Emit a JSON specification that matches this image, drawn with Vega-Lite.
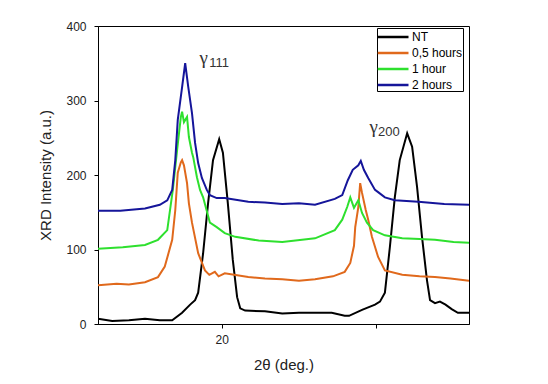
{
  "$schema": "https://vega.github.io/schema/vega-lite/v6.json",
  "autosize": {"type": "none"},
  "padding": {"left": 98, "top": 26, "right": 79, "bottom": 60},
  "width": 371,
  "height": 298,
  "background": "white",
  "config": {
    "view": {"stroke": "black", "strokeWidth": 1},
    "font": "Liberation Sans"
  },
  "datasets": {
    "xrd": [
      {"s": "NT", "x": 18.00, "y": 7}, {"s": "NT", "x": 18.23, "y": 4}, {"s": "NT", "x": 18.5, "y": 5}, {"s": "NT", "x": 18.76, "y": 7}, {"s": "NT", "x": 19.0, "y": 5}, {"s": "NT", "x": 19.20, "y": 5},
      {"s": "NT", "x": 19.36, "y": 15}, {"s": "NT", "x": 19.49, "y": 26}, {"s": "NT", "x": 19.57, "y": 32}, {"s": "NT", "x": 19.62, "y": 42}, {"s": "NT", "x": 19.70, "y": 95},
      {"s": "NT", "x": 19.78, "y": 162}, {"s": "NT", "x": 19.86, "y": 220}, {"s": "NT", "x": 19.96, "y": 248}, {"s": "NT", "x": 20.02, "y": 230}, {"s": "NT", "x": 20.10, "y": 162},
      {"s": "NT", "x": 20.18, "y": 86}, {"s": "NT", "x": 20.25, "y": 36}, {"s": "NT", "x": 20.30, "y": 21}, {"s": "NT", "x": 20.38, "y": 18}, {"s": "NT", "x": 20.70, "y": 17},
      {"s": "NT", "x": 20.98, "y": 14}, {"s": "NT", "x": 21.25, "y": 15}, {"s": "NT", "x": 21.51, "y": 15}, {"s": "NT", "x": 21.78, "y": 15}, {"s": "NT", "x": 21.99, "y": 11}, {"s": "NT", "x": 22.06, "y": 11},
      {"s": "NT", "x": 22.27, "y": 19}, {"s": "NT", "x": 22.48, "y": 26}, {"s": "NT", "x": 22.56, "y": 30}, {"s": "NT", "x": 22.64, "y": 42}, {"s": "NT", "x": 22.72, "y": 103}, {"s": "NT", "x": 22.80, "y": 170},
      {"s": "NT", "x": 22.88, "y": 220}, {"s": "NT", "x": 23.00, "y": 256}, {"s": "NT", "x": 23.08, "y": 238}, {"s": "NT", "x": 23.16, "y": 184}, {"s": "NT", "x": 23.24, "y": 117},
      {"s": "NT", "x": 23.32, "y": 59}, {"s": "NT", "x": 23.37, "y": 32}, {"s": "NT", "x": 23.45, "y": 28}, {"s": "NT", "x": 23.53, "y": 30}, {"s": "NT", "x": 23.62, "y": 26}, {"s": "NT", "x": 23.72, "y": 20}, {"s": "NT", "x": 23.82, "y": 15}, {"s": "NT", "x": 24.0, "y": 15},

      {"s": "0,5 hours", "x": 18.00, "y": 52}, {"s": "0,5 hours", "x": 18.3, "y": 54}, {"s": "0,5 hours", "x": 18.5, "y": 53}, {"s": "0,5 hours", "x": 18.76, "y": 56}, {"s": "0,5 hours", "x": 18.97, "y": 63},
      {"s": "0,5 hours", "x": 19.08, "y": 77}, {"s": "0,5 hours", "x": 19.20, "y": 113}, {"s": "0,5 hours", "x": 19.25, "y": 153}, {"s": "0,5 hours", "x": 19.29, "y": 203}, {"s": "0,5 hours", "x": 19.34, "y": 217},
      {"s": "0,5 hours", "x": 19.36, "y": 220}, {"s": "0,5 hours", "x": 19.39, "y": 213}, {"s": "0,5 hours", "x": 19.44, "y": 189}, {"s": "0,5 hours", "x": 19.47, "y": 162}, {"s": "0,5 hours", "x": 19.52, "y": 136},
      {"s": "0,5 hours", "x": 19.62, "y": 95}, {"s": "0,5 hours", "x": 19.73, "y": 72}, {"s": "0,5 hours", "x": 19.80, "y": 66}, {"s": "0,5 hours", "x": 19.89, "y": 70}, {"s": "0,5 hours", "x": 19.95, "y": 64},
      {"s": "0,5 hours", "x": 20.05, "y": 68}, {"s": "0,5 hours", "x": 20.43, "y": 63}, {"s": "0,5 hours", "x": 20.7, "y": 61}, {"s": "0,5 hours", "x": 20.98, "y": 60}, {"s": "0,5 hours", "x": 21.25, "y": 58},
      {"s": "0,5 hours", "x": 21.51, "y": 60}, {"s": "0,5 hours", "x": 21.8, "y": 64}, {"s": "0,5 hours", "x": 21.99, "y": 70}, {"s": "0,5 hours", "x": 22.08, "y": 82}, {"s": "0,5 hours", "x": 22.14, "y": 105},
      {"s": "0,5 hours", "x": 22.16, "y": 130}, {"s": "0,5 hours", "x": 22.21, "y": 157}, {"s": "0,5 hours", "x": 22.24, "y": 189}, {"s": "0,5 hours", "x": 22.27, "y": 176}, {"s": "0,5 hours", "x": 22.33, "y": 153},
      {"s": "0,5 hours", "x": 22.37, "y": 140}, {"s": "0,5 hours", "x": 22.43, "y": 117}, {"s": "0,5 hours", "x": 22.53, "y": 90}, {"s": "0,5 hours", "x": 22.64, "y": 72}, {"s": "0,5 hours", "x": 22.92, "y": 66}, {"s": "0,5 hours", "x": 23.2, "y": 64}, {"s": "0,5 hours", "x": 23.45, "y": 63},
      {"s": "0,5 hours", "x": 23.7, "y": 61}, {"s": "0,5 hours", "x": 24.0, "y": 58},

      {"s": "1 hour", "x": 18.00, "y": 101}, {"s": "1 hour", "x": 18.4, "y": 103}, {"s": "1 hour", "x": 18.76, "y": 106}, {"s": "1 hour", "x": 18.97, "y": 113}, {"s": "1 hour", "x": 19.12, "y": 126},
      {"s": "1 hour", "x": 19.21, "y": 180}, {"s": "1 hour", "x": 19.28, "y": 234}, {"s": "1 hour", "x": 19.34, "y": 278}, {"s": "1 hour", "x": 19.36, "y": 285}, {"s": "1 hour", "x": 19.39, "y": 271},
      {"s": "1 hour", "x": 19.44, "y": 278}, {"s": "1 hour", "x": 19.47, "y": 251}, {"s": "1 hour", "x": 19.52, "y": 230}, {"s": "1 hour", "x": 19.54, "y": 224}, {"s": "1 hour", "x": 19.60, "y": 197},
      {"s": "1 hour", "x": 19.65, "y": 180}, {"s": "1 hour", "x": 19.70, "y": 170}, {"s": "1 hour", "x": 19.81, "y": 136}, {"s": "1 hour", "x": 19.92, "y": 130}, {"s": "1 hour", "x": 20.05, "y": 122}, {"s": "1 hour", "x": 20.22, "y": 117},
      {"s": "1 hour", "x": 20.6, "y": 112}, {"s": "1 hour", "x": 20.98, "y": 110}, {"s": "1 hour", "x": 21.3, "y": 113}, {"s": "1 hour", "x": 21.51, "y": 115}, {"s": "1 hour", "x": 21.83, "y": 126},
      {"s": "1 hour", "x": 21.95, "y": 140}, {"s": "1 hour", "x": 22.03, "y": 157}, {"s": "1 hour", "x": 22.08, "y": 170}, {"s": "1 hour", "x": 22.14, "y": 156},
      {"s": "1 hour", "x": 22.21, "y": 166}, {"s": "1 hour", "x": 22.27, "y": 149}, {"s": "1 hour", "x": 22.35, "y": 136}, {"s": "1 hour", "x": 22.45, "y": 126}, {"s": "1 hour", "x": 22.64, "y": 119},
      {"s": "1 hour", "x": 22.92, "y": 115}, {"s": "1 hour", "x": 23.2, "y": 114}, {"s": "1 hour", "x": 23.45, "y": 113}, {"s": "1 hour", "x": 23.75, "y": 110}, {"s": "1 hour", "x": 24.0, "y": 109},

      {"s": "2 hours", "x": 18.00, "y": 152}, {"s": "2 hours", "x": 18.36, "y": 152}, {"s": "2 hours", "x": 18.76, "y": 155}, {"s": "2 hours", "x": 19.00, "y": 160},
      {"s": "2 hours", "x": 19.12, "y": 166}, {"s": "2 hours", "x": 19.20, "y": 180}, {"s": "2 hours", "x": 19.25, "y": 220}, {"s": "2 hours", "x": 19.29, "y": 274},
      {"s": "2 hours", "x": 19.36, "y": 318}, {"s": "2 hours", "x": 19.41, "y": 350}, {"s": "2 hours", "x": 19.46, "y": 318}, {"s": "2 hours", "x": 19.52, "y": 283},
      {"s": "2 hours", "x": 19.57, "y": 243}, {"s": "2 hours", "x": 19.62, "y": 216}, {"s": "2 hours", "x": 19.68, "y": 196}, {"s": "2 hours", "x": 19.76, "y": 180},
      {"s": "2 hours", "x": 19.81, "y": 173}, {"s": "2 hours", "x": 19.92, "y": 169}, {"s": "2 hours", "x": 20.05, "y": 169}, {"s": "2 hours", "x": 20.43, "y": 164}, {"s": "2 hours", "x": 20.7, "y": 163}, {"s": "2 hours", "x": 20.98, "y": 161}, {"s": "2 hours", "x": 21.25, "y": 162},
      {"s": "2 hours", "x": 21.51, "y": 160}, {"s": "2 hours", "x": 21.83, "y": 168}, {"s": "2 hours", "x": 21.95, "y": 173}, {"s": "2 hours", "x": 22.04, "y": 193}, {"s": "2 hours", "x": 22.12, "y": 207},
      {"s": "2 hours", "x": 22.21, "y": 213}, {"s": "2 hours", "x": 22.25, "y": 219}, {"s": "2 hours", "x": 22.30, "y": 207}, {"s": "2 hours", "x": 22.37, "y": 196}, {"s": "2 hours", "x": 22.48, "y": 180},
      {"s": "2 hours", "x": 22.53, "y": 177}, {"s": "2 hours", "x": 22.64, "y": 170}, {"s": "2 hours", "x": 22.80, "y": 166}, {"s": "2 hours", "x": 23.18, "y": 164}, {"s": "2 hours", "x": 23.6, "y": 161}, {"s": "2 hours", "x": 24.0, "y": 160}
    ],
    "gamma": [
      {"x": 19.71, "y": 357, "t": "γ"},
      {"x": 22.46, "y": 264, "t": "γ"}
    ],
    "sub": [
      {"x": 19.80, "y": 351, "t": "111"},
      {"x": 22.53, "y": 258, "t": "200"}
    ]
  },
  "layer": [
    {
      "data": {"name": "xrd"},
      "mark": {"type": "line", "strokeWidth": 2, "clip": true},
      "encoding": {
        "x": {
          "field": "x", "type": "quantitative",
          "scale": {"domain": [18, 24], "nice": false, "zero": false},
          "axis": {
            "title": "2θ (deg.)", "values": [20, 22.5],
            "labelExpr": "datum.value == 20 ? '20' : ''",
            "grid": false, "domainColor": "black", "tickColor": "black", "tickSize": 4,
            "labelFontSize": 12, "labelColor": "#222", "labelPadding": 6,
            "titleFontSize": 15, "titleFontWeight": "normal", "titleColor": "#222", "titlePadding": 12,
            "labelFont": "Liberation Sans", "titleFont": "Liberation Sans"
          }
        },
        "y": {
          "field": "y", "type": "quantitative",
          "scale": {"domain": [0, 400], "nice": false},
          "axis": {
            "title": "XRD Intensity (a.u.)", "values": [0, 50, 100, 150, 200, 250, 300, 350, 400],
            "labelExpr": "datum.value % 100 == 0 ? datum.label : ''",
            "tickSize": {"condition": {"test": "datum.value % 100 != 0", "value": 3}, "value": 4},
            "grid": false, "domainColor": "black", "tickColor": "black",
            "labelFontSize": 12, "labelColor": "#222", "labelPadding": 8,
            "titleFontSize": 15, "titleFontWeight": "normal", "titleColor": "#222", "titlePadding": 12,
            "labelFont": "Liberation Sans", "titleFont": "Liberation Sans"
          }
        },
        "color": {
          "field": "s", "type": "nominal",
          "scale": {"domain": ["NT", "0,5 hours", "1 hour", "2 hours"], "range": ["#000000", "#e0691c", "#2ee02e", "#15159a"]},
          "legend": {
            "title": null, "orient": "none", "legendX": 279, "legendY": 2,
            "symbolType": "M-1.1,0H3", "symbolSize": 225, "symbolStrokeWidth": 2.5,
            "labelFontSize": 12, "labelColor": "black", "labelFont": "Liberation Sans",
            "strokeColor": "black", "fillColor": "white", "padding": 0, "rowPadding": 1, "labelOffset": 17
          }
        }
      }
    },
    {
      "data": {"name": "gamma"},
      "mark": {"type": "text", "font": "Liberation Serif", "fontSize": 19, "align": "center", "baseline": "middle", "color": "#333"},
      "encoding": {"x": {"field": "x", "type": "quantitative"}, "y": {"field": "y", "type": "quantitative"}, "text": {"field": "t"}}
    },
    {
      "data": {"name": "sub"},
      "mark": {"type": "text", "font": "Liberation Sans", "fontSize": 13, "align": "left", "baseline": "middle", "color": "#333"},
      "encoding": {"x": {"field": "x", "type": "quantitative"}, "y": {"field": "y", "type": "quantitative"}, "text": {"field": "t"}}
    }
  ]
}
